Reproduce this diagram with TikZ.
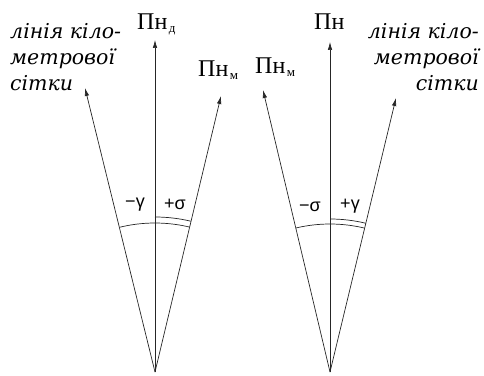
\documentclass[tikz,border=0pt]{standalone}
\usepackage{fontspec}
\setmainfont{Liberation Serif}
\newfontfamily\lsans{Liberation Sans}
\newfontfamily\gridfont{DejaVu Serif}
\usetikzlibrary{arrows.meta,calc}
\newcommand\pnsub[1]{\hspace{1.5pt}\raisebox{-3pt}{\fontsize{13}{13}\selectfont #1}}
\begin{document}
\begin{tikzpicture}[x=1pt,y=1pt,
  ray/.style={line width=0.7pt, draw=black!85, -{Latex[length=8pt,width=4.5pt]}},
  arcline/.style={line width=0.7pt, draw=black!85},
  pn/.style={anchor=base west, inner sep=0, font=\fontsize{24}{24}\selectfont},
  ang/.style={inner sep=0, font=\lsans\fontsize{18}{18}\selectfont},
  gridtext/.style={inner sep=0, font=\gridfont\fontsize{20.5}{26}\selectfont\itshape}
]
\useasboundingbox (0,0) rectangle (484,375);
% left diagram
\coordinate (A1) at (155,3);
\coordinate (L1c) at (155,335);
\coordinate (L1l) at (85,287);
\coordinate (L1r) at (221,279);
\draw[ray] (A1) -- (L1c);
\draw[ray] (A1) -- (L1l);
\draw[ray] (A1) -- (L1r);
\draw[arcline] ($(A1)+(103.85:149)$) arc[start angle=103.85, end angle=76.55, radius=149];
\draw[arcline] ($(A1)+(90:155)$) arc[start angle=90, end angle=76.55, radius=155];
\node[ang] (g1) at (135,170) {−γ};
\node[ang] (s1) at (175,171) {+σ};
\node[pn] (pnd) at (137,345) {Пн\pnsub{д}};
\node[pn] (pnm1) at (198,298) {Пн\pnsub{м}};
\node[gridtext, anchor=north west, align=left] (km1) at (10,351.5) {лінія кіло-\\метрової\\сітки};
% right diagram
\coordinate (A2) at (330,3);
\coordinate (L2c) at (330,333);
\coordinate (L2l) at (263,285);
\coordinate (L2r) at (396,277);
\draw[ray] (A2) -- (L2c);
\draw[ray] (A2) -- (L2l);
\draw[ray] (A2) -- (L2r);
\draw[arcline] ($(A2)+(103.36:148)$) arc[start angle=103.36, end angle=76.46, radius=148];
\draw[arcline] ($(A2)+(90:153)$) arc[start angle=90, end angle=76.46, radius=153];
\node[ang] (s2) at (310,168) {−σ};
\node[ang] (g2) at (350,169) {+γ};
\node[pn] (pn) at (314,345) {Пн};
\node[pn] (pnm2) at (255,301) {Пн\pnsub{м}};
\node[gridtext, anchor=north east, align=right] (km2) at (479,351.5) {лінія кіло-\\метрової\\сітки};
\end{tikzpicture}
\end{document}
